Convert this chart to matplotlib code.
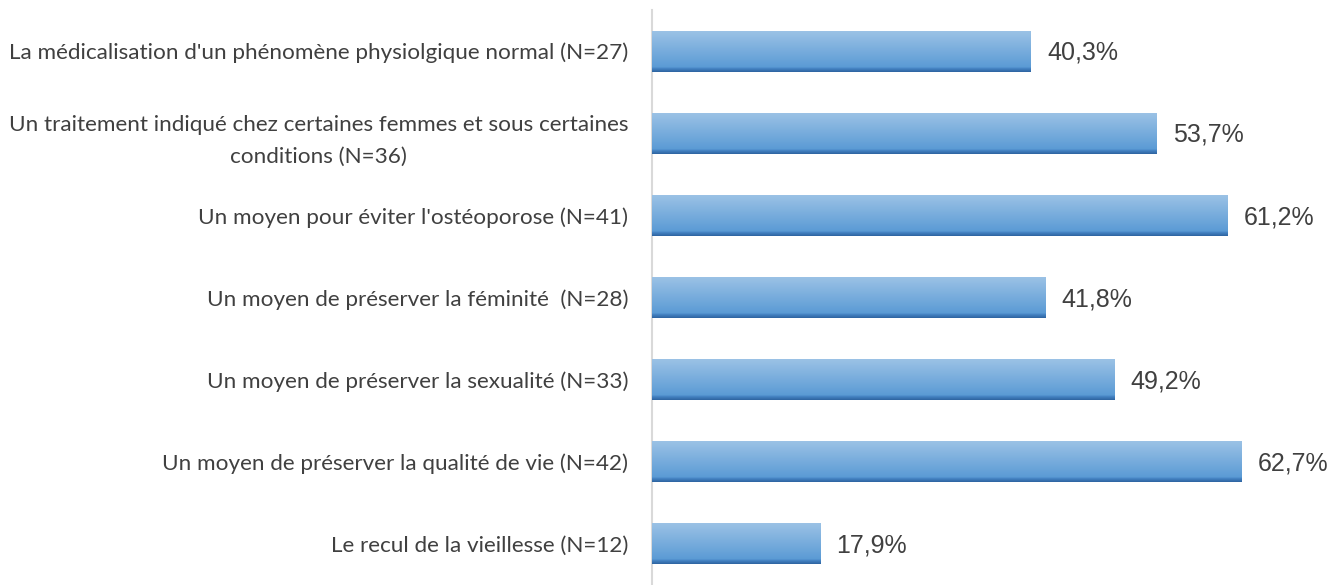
import numpy as np
import matplotlib
matplotlib.use("Agg")
import matplotlib.pyplot as plt

# ---------------------------------------------------------------------------
# Data
# ---------------------------------------------------------------------------
categories = [
    "La médicalisation d'un phénomène physiolgique normal (N=27)",
    "Un traitement indiqué chez certaines femmes et sous certaines\nconditions (N=36)",
    "Un moyen pour éviter l'ostéoporose (N=41)",
    "Un moyen de préserver la féminité  (N=28)",
    "Un moyen de préserver la sexualité (N=33)",
    "Un moyen de préserver la qualité de vie (N=42)",
    "Le recul de la vieillesse (N=12)",
]
values = [40.3, 53.7, 61.2, 41.8, 49.2, 62.7, 17.9]
value_labels = ["40,3%", "53,7%", "61,2%", "41,8%", "49,2%", "62,7%", "17,9%"]

# ---------------------------------------------------------------------------
# Figure
# ---------------------------------------------------------------------------
W, H = 1337, 585
fig = plt.figure(figsize=(W / 100, H / 100), dpi=100)
ax = fig.add_axes([652 / W, 0, (1330 - 652) / W, 1 - 10 / H])

y = np.arange(len(categories))
bars = ax.barh(y, values, height=0.5, color="#5B9BD5", zorder=2)

# vertical gradient inside each bar (light top -> mid blue -> thin dark rim)
grad = np.linspace(0, 1, 256).reshape(-1, 1)
cmap = matplotlib.colors.LinearSegmentedColormap.from_list(
    "bar", [(0.0, "#9DC3E6"), (0.88, "#5B9BD5"), (0.92, "#4482C2"), (1.0, "#2E63A0")])
for b in bars:
    x0, y0 = b.get_x(), b.get_y()
    w, h = b.get_width(), b.get_height()
    im = ax.imshow(grad, cmap=cmap, aspect="auto",
                   extent=(x0, x0 + w, y0 + h, y0), zorder=3)
    im.set_clip_path(b)

for yi, v, lab in zip(y, values, value_labels):
    ax.text(v + 1.7, yi + 0.02, lab, va="center", ha="left",
            fontsize=18, color="#404040", family="Liberation Sans")

ax.set_xlim(0, 72.1)
ax.set_ylim(6.5, -0.5)
ax.set_yticks(y)
ax.set_yticklabels(categories, fontsize=16.2, color="#404040", family="Lato",
                   multialignment="center", linespacing=1.75)
ax.tick_params(axis="y", length=0, pad=17)
ax.set_xticks([])

for s in ["top", "right", "bottom"]:
    ax.spines[s].set_visible(False)
ax.spines["left"].set_color("#D9D9D9")
ax.spines["left"].set_linewidth(1.5)

fig.savefig("out.png", dpi=100)
